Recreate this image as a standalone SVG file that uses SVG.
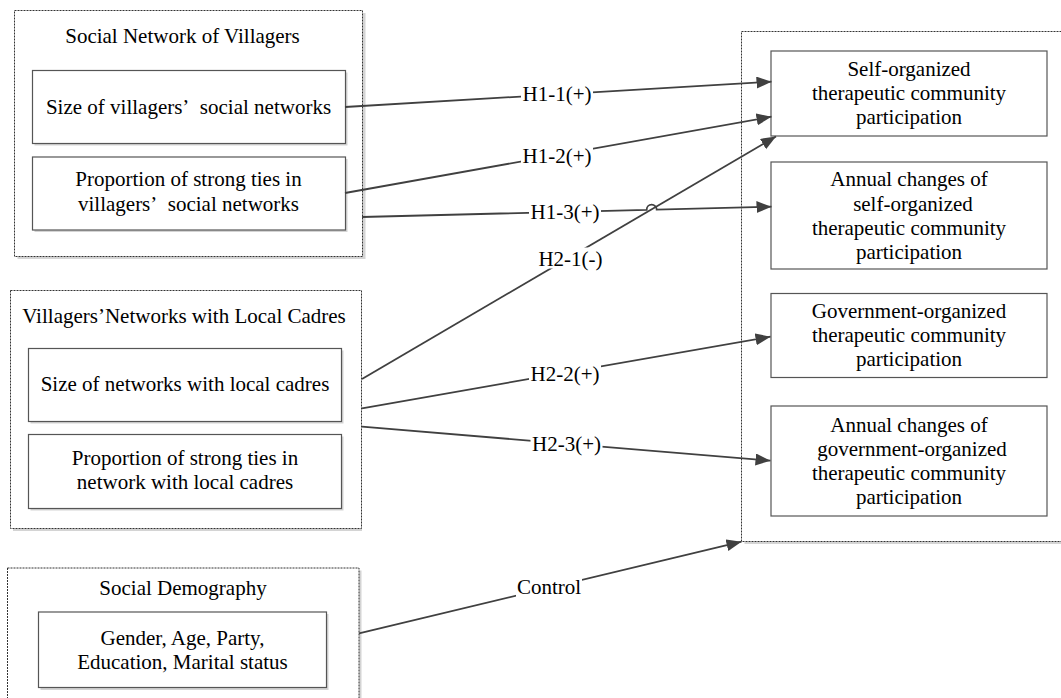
<svg xmlns="http://www.w3.org/2000/svg" width="1061" height="698" viewBox="0 0 1061 698">
<defs>
<style>
text{font-family:"Liberation Serif","Times New Roman",serif;font-size:21px;fill:#000;text-anchor:middle}
.grp{fill:#fff;stroke:#333;stroke-width:1;stroke-dasharray:2 1}
.sh{fill:#d4d4d4;stroke:none}
.box{fill:#fff;stroke:#555;stroke-width:1.2}
.con{fill:none;stroke:#404040;stroke-width:1.8}
.lbg{fill:#fff;stroke:none}
</style>
<marker id="arr" markerUnits="userSpaceOnUse" markerWidth="18" markerHeight="14" refX="15" refY="6" orient="auto">
<path d="M0,0 L15,6 L0,12 z" fill="#404040"/>
</marker>
</defs>
<rect width="1061" height="698" fill="#fff"/>

<g id="group-outcomes">
<rect class="sh" x="744.5" y="34" width="330" height="510"/>
<rect class="grp" x="741.5" y="31.5" width="330" height="510"/>
</g>

<g id="group-social-network">
<rect class="sh" x="17.5" y="13" width="348" height="246"/>
<rect class="grp" x="14.5" y="10.5" width="348" height="246"/>
<text x="182.5" y="43">Social Network of Villagers</text>
</g>
<g id="node-size-villagers">
<rect class="sh" x="34.5" y="72.5" width="313" height="73"/>
<rect class="box" x="32.5" y="70.5" width="313" height="73"/>
<text x="188.5" y="114">Size of villagers’&#160; social networks</text>
</g>
<g id="node-strong-villagers">
<rect class="sh" x="34.5" y="159" width="313" height="73"/>
<rect class="box" x="32.5" y="157" width="313" height="73"/>
<text x="188.5" y="186">Proportion of strong ties in</text>
<text x="188.5" y="211">villagers’&#160; social networks</text>
</g>

<g id="group-cadres">
<rect class="sh" x="13" y="293" width="349" height="238"/>
<rect class="grp" x="10.5" y="290.5" width="351" height="238"/>
<text x="184" y="323">Villagers’Networks with Local Cadres</text>
</g>
<g id="node-size-cadres">
<rect class="sh" x="30.5" y="350.5" width="313" height="73"/>
<rect class="box" x="28.5" y="348.5" width="313" height="73"/>
<text x="185" y="391">Size of networks with local cadres</text>
</g>
<g id="node-strong-cadres">
<rect class="sh" x="30.5" y="436.5" width="313" height="74"/>
<rect class="box" x="28.5" y="434.5" width="313" height="74"/>
<text x="185" y="465">Proportion of strong ties in</text>
<text x="185" y="489">network with local cadres</text>
</g>

<g id="group-demography">
<rect class="sh" x="10" y="570.5" width="351.5" height="140"/>
<rect class="grp" x="7.5" y="568" width="351.5" height="140"/>
<text x="183" y="595">Social Demography</text>
</g>
<g id="node-demography">
<rect class="sh" x="40.5" y="614" width="288" height="76"/>
<rect class="box" x="38.5" y="612" width="288" height="75.5"/>
<text x="182.5" y="644.5">Gender, Age, Party,</text>
<text x="182.5" y="669">Education, Marital status</text>
</g>

<g id="node-self-org">
<rect class="box" x="771" y="51" width="276" height="85"/>
<text x="909" y="76">Self-organized</text>
<text x="909" y="100">therapeutic community</text>
<text x="909" y="124">participation</text>
</g>
<g id="node-annual-self">
<rect class="box" x="771" y="162" width="276" height="107"/>
<text x="909" y="186">Annual changes of</text>
<text x="913" y="210.5">self-organized</text>
<text x="909" y="234.5">therapeutic community</text>
<text x="909" y="258.5">participation</text>
</g>
<g id="node-gov-org">
<rect class="box" x="771" y="293.5" width="276" height="84"/>
<text x="909" y="318">Government-organized</text>
<text x="909" y="342">therapeutic community</text>
<text x="909" y="366">participation</text>
</g>
<g id="node-annual-gov">
<rect class="box" x="771" y="406" width="276" height="110"/>
<text x="909" y="432">Annual changes of</text>
<text x="912" y="456">government-organized</text>
<text x="909" y="480">therapeutic community</text>
<text x="909" y="504">participation</text>
</g>

<g id="connectors">
<path class="con" marker-end="url(#arr)" d="M345,107 L771.5,81.7"/>
<path class="con" marker-end="url(#arr)" d="M345,193 L771.5,116.7"/>
<path class="con" marker-end="url(#arr)" d="M362,217 L646.7,209.8 A5,5 0 0 1 656.7,209.6 L771.5,206.7"/>
<path class="con" marker-end="url(#arr)" d="M362,379 L776,136.5"/>
<path class="con" marker-end="url(#arr)" d="M362,408.3 L770.5,336.7"/>
<path class="con" marker-end="url(#arr)" d="M362,426.7 L770.5,460.7"/>
<path class="con" marker-end="url(#arr)" d="M359,633.3 L741.5,541.7"/>
<g id="labels">
<rect class="lbg" x="521" y="83" width="72" height="21"/>
<text x="557" y="101">H1-1(+)</text>
<rect class="lbg" x="521" y="144.5" width="72" height="21"/>
<text x="557" y="162.5">H1-2(+)</text>
<rect class="lbg" x="529" y="201" width="72" height="21"/>
<text x="565" y="219">H1-3(+)</text>
<rect class="lbg" x="537" y="247.5" width="67" height="21"/>
<text x="570.5" y="265.5">H2-1(-)</text>
<rect class="lbg" x="529" y="362.5" width="72" height="21"/>
<text x="565" y="380.5">H2-2(+)</text>
<rect class="lbg" x="530.5" y="433" width="72" height="21"/>
<text x="566.5" y="451">H2-3(+)</text>
<rect class="lbg" x="516" y="576" width="66" height="21"/>
<text x="549" y="594">Control</text>
</g>
</g>
</svg>
